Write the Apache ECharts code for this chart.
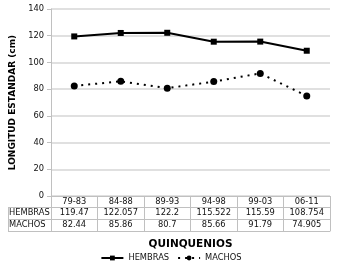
<!DOCTYPE html>
<html><head><meta charset="utf-8">
<script src="https://cdn.jsdelivr.net/npm/echarts@6/dist/echarts.min.js"></script>
<style>html,body{margin:0;padding:0;background:#fff}#c{width:342px;height:275px}</style>
</head><body><div id="c"></div>
<script>
var categories = ['79-83','84-88','89-93','94-98','99-03','06-11'];
var hembras = [119.47, 122.057, 122.2, 115.522, 115.59, 108.754];
var machos = [82.44, 85.86, 80.7, 85.66, 91.79, 74.905];
var hembrasLabels = ['119.47','122.057','122.2','115.522','115.59','108.754'];
var machosLabels = ['82.44','85.86','80.7','85.66','91.79','74.905'];
var rowNames = ['HEMBRAS','MACHOS'];
var yTicks = {min:0, max:140, interval:20};

var FONT = 'DejaVu Sans';
var GL = 51, GR = 330, GT = 9, GB = 196, TL = 8, ROW = 12, ROW0 = 11;
var borderColor = '#c0c0c0';
var chart = echarts.init(document.getElementById('c'));

function tableAxis(idx, offset, fmt, name){
  return {
    type:'category', data:categories, position:'bottom', offset:offset, gridIndex:0,
    axisLine:{show:true, lineStyle:{color:borderColor, width:1}},
    axisTick:{show: fmt!==null, length: idx===0?ROW0:ROW, interval:0, lineStyle:{color:borderColor}},
    axisLabel:{show: fmt!==null, margin:2, fontSize:8.3, fontFamily:FONT, color:'#111', interval:0,
      formatter: fmt||undefined},
    splitLine:{show:false},
    name: name||'', nameLocation:'middle', nameGap:8,
    nameTextStyle:{fontFamily:FONT, fontWeight:'bold', fontSize:10.5, color:'#000'}
  };
}

var y1 = GB + ROW0, y2 = y1 + ROW, y3 = y2 + ROW;

chart.setOption({
  animation:false,
  grid:{left:GL, right:342-GR, top:GT, bottom:275-GB, containLabel:false},
  xAxis:[
    tableAxis(0, 0, function(v){return v;}),
    tableAxis(1, ROW0, function(v,i){return hembrasLabels[i];}),
    tableAxis(2, ROW0+ROW, function(v,i){return machosLabels[i];}),
    tableAxis(3, ROW0+2*ROW, null, 'QUINQUENIOS')
  ],
  yAxis:{
    type:'value', min:yTicks.min, max:yTicks.max, interval:yTicks.interval,
    axisLine:{show:true, lineStyle:{color:borderColor}},
    axisTick:{show:true, length:4, lineStyle:{color:borderColor}},
    axisLabel:{margin:7, fontSize:8.3, fontFamily:FONT, color:'#111'},
    splitLine:{show:true, lineStyle:{color:'#d6d6d6', width:1.5}},
    name:'LONGITUD ESTANDAR (cm)', nameLocation:'middle', nameRotate:90, nameGap:32,
    nameTextStyle:{fontFamily:FONT, fontWeight:'bold', fontSize:9, color:'#000'}
  },
  legend:{
    left:'center', top:249, itemWidth:22, itemHeight:6, itemGap:8,
    textStyle:{fontFamily:FONT, fontSize:8.3, color:'#111'},
    data:['HEMBRAS','MACHOS']
  },
  graphic:[
    {type:'line', shape:{x1:TL, y1:y1+0.5, x2:GL, y2:y1+0.5}, style:{stroke:borderColor, lineWidth:1}},
    {type:'line', shape:{x1:TL, y1:y2+0.5, x2:GL, y2:y2+0.5}, style:{stroke:borderColor, lineWidth:1}},
    {type:'line', shape:{x1:TL, y1:y3+0.5, x2:GL, y2:y3+0.5}, style:{stroke:borderColor, lineWidth:1}},
    {type:'line', shape:{x1:TL+0.5, y1:y1, x2:TL+0.5, y2:y3}, style:{stroke:borderColor, lineWidth:1}},
    {type:'line', shape:{x1:GL+0.5, y1:GB, x2:GL+0.5, y2:y3}, style:{stroke:borderColor, lineWidth:1}},
    {type:'text', left:TL+1, top:y1+2, style:{text:rowNames[0], font:'8.3px "DejaVu Sans"', fill:'#111'}},
    {type:'text', left:TL+1, top:y2+2, style:{text:rowNames[1], font:'8.3px "DejaVu Sans"', fill:'#111'}}
  ],
  series:[
    {name:'HEMBRAS', type:'line', data:hembras, symbol:'rect', symbolSize:6,
     lineStyle:{color:'#000', width:2}, itemStyle:{color:'#000'}},
    {name:'MACHOS', type:'line', data:machos, symbol:'circle', symbolSize:7,
     lineStyle:{color:'#000', width:2, type:[2,5]}, itemStyle:{color:'#000'}}
  ]
});
</script></body></html>
